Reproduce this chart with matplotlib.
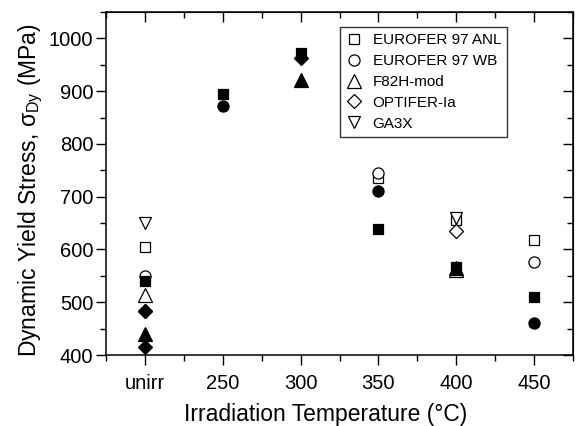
import matplotlib
matplotlib.use("Agg")
import matplotlib.pyplot as plt
from matplotlib.ticker import MultipleLocator
from matplotlib.lines import Line2D

plt.rcParams['font.family'] = ['Liberation Sans', 'DejaVu Sans']
plt.rcParams['mathtext.fontset'] = 'custom'
plt.rcParams['mathtext.rm'] = 'Liberation Sans'

# x positions: "unirr" drawn at 200
tick_pos = [200, 250, 300, 350, 400, 450]
tick_labels = ['unirr', '250', '300', '350', '400', '450']

series = ['EUROFER 97 ANL', 'EUROFER 97 WB', 'F82H-mod', 'OPTIFER-Ia', 'GA3X']
markers = ['s', 'o', '^', 'D', 'v']

# open symbols (legend series)
open_x = {
    'EUROFER 97 ANL': [200, 350, 400, 450],
    'EUROFER 97 WB': [200, 350, 450],
    'F82H-mod': [200, 400],
    'OPTIFER-Ia': [200, 400],
    'GA3X': [200, 400],
}
open_y = {
    'EUROFER 97 ANL': [604, 735, 655, 618],
    'EUROFER 97 WB': [550, 745, 576],
    'F82H-mod': [514, 562],
    'OPTIFER-Ia': [484, 635],
    'GA3X': [651, 660],
}
# filled symbols
filled_x = {
    'EUROFER 97 ANL': [200, 250, 300, 350, 400, 450],
    'EUROFER 97 WB': [250, 350, 450],
    'F82H-mod': [200, 300, 400],
    'OPTIFER-Ia': [200, 200, 300],
    'GA3X': [],
}
filled_y = {
    'EUROFER 97 ANL': [541, 895, 972, 638, 567, 510],
    'EUROFER 97 WB': [872, 711, 460],
    'F82H-mod': [440, 922, 565],
    'OPTIFER-Ia': [484, 416, 963],
    'GA3X': [],
}

fig = plt.figure(figsize=(5.78, 4.26), dpi=100)
ax = fig.add_axes([106/578, 1-355/426, (573-106)/578, (355-12)/426])

msize = {'s': 7, 'o': 8, '^': 10, 'D': 7, 'v': 9}
for name, m in zip(series, markers):
    ax.plot(open_x[name], open_y[name], linestyle='none', marker=m, ms=msize[m],
            mfc='white', mec='black', mew=0.9, zorder=2)
for name, m in zip(series, markers):
    if filled_x[name]:
        ax.plot(filled_x[name], filled_y[name], linestyle='none', marker=m, ms=msize[m],
                mfc='black', mec='black', mew=0.9, zorder=3)

ax.set_xlim(175, 475)
ax.set_ylim(400, 1050)
ax.set_xticks(tick_pos)
ax.set_xticklabels(tick_labels)
ax.xaxis.set_minor_locator(MultipleLocator(25))
ax.set_yticks([400, 500, 600, 700, 800, 900, 1000])
ax.yaxis.set_minor_locator(MultipleLocator(50))
ax.tick_params(which='major', direction='out', length=7, width=1, labelsize=14.5)
ax.tick_params(axis='x', which='major', pad=7)
ax.tick_params(axis='y', which='major', pad=2)
ax.tick_params(which='minor', direction='out', length=4, width=1)
for s in ax.spines.values():
    s.set_linewidth(1.1)

sx = ax.secondary_xaxis('top')
sx.set_xticks(tick_pos)
sx.xaxis.set_minor_locator(MultipleLocator(25))
sx.tick_params(which='major', direction='in', length=7, width=1, labeltop=False)
sx.tick_params(which='minor', direction='in', length=4, width=1)
sy = ax.secondary_yaxis('right')
sy.set_yticks([400, 500, 600, 700, 800, 900, 1000])
sy.yaxis.set_minor_locator(MultipleLocator(50))
sy.tick_params(which='major', direction='in', length=7, width=1, labelright=False)
sy.tick_params(which='minor', direction='in', length=4, width=1)

ax.set_xlabel('Irradiation Temperature (°C)', fontsize=16.5, labelpad=7)
ax.xaxis.label.set_x(0.471)
ax.set_ylabel(r'Dynamic Yield Stress, σ$_{\mathrm{Dy}}$ (MPa)', fontsize=16.5, labelpad=3)
ax.yaxis.label.set_y(0.481)

handles = [Line2D([], [], linestyle='none', marker=m, ms=msize[m], mfc='white',
                  mec='black', mew=0.9) for m in markers]
leg = ax.legend(handles, series, loc='upper right', bbox_to_anchor=(0.859, 0.956),
                borderaxespad=0.0,
                fontsize=11, frameon=True, fancybox=False, edgecolor='black',
                handlelength=1.0, handletextpad=0.7, labelspacing=0.45, borderpad=0.4)
leg.get_frame().set_linewidth(1.0)

fig.savefig('out.png', dpi=100)
